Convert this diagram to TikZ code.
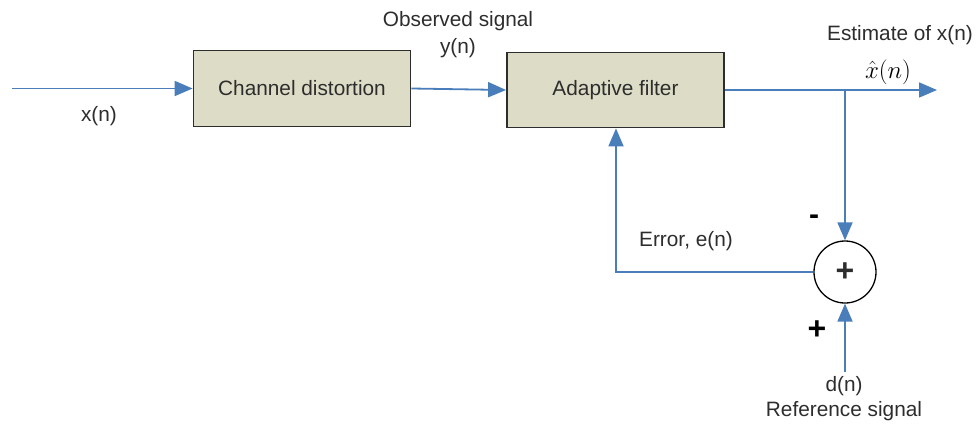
\documentclass[tikz,border=0pt]{standalone}
\usepackage{fontspec}
\setmainfont{Liberation Sans}
\usetikzlibrary{arrows.meta}
\definecolor{sigblue}{RGB}{74,126,187}
\definecolor{boxfill}{RGB}{221,221,199}
\definecolor{inkgray}{RGB}{45,45,45}
\begin{document}
\begin{tikzpicture}[x=1pt,y=-1pt,
  every node/.style={font=\fontsize{20.8}{22}\selectfont, text=inkgray},
  block/.style={draw=inkgray, line width=1.8pt, fill=boxfill, minimum width=217pt, minimum height=76pt, inner sep=0pt},
  summer/.style={draw=black, line width=1.3pt, circle, minimum size=62pt, inner sep=0pt},
  sig/.style={draw=sigblue, line width=1.8pt},
  sigarrow/.style={sig, -{Triangle[length=18pt,width=15pt]}},
  lbl/.style={inner sep=0pt}]
  \useasboundingbox (0,0) rectangle (977,423);

  % blocks
  \node[block] (chan) at (302,88.5) {Channel distortion};
  \node[block, minimum height=75pt] (filt) at (615.5,90) {Adaptive filter};
  \node[summer] (sum) at (845,272) {\fontsize{32}{32}\selectfont\bfseries +};

  % free ends of the signal lines
  \coordinate (xin) at (12,88.5);
  \coordinate (xout) at (937,90);
  \coordinate (tap) at (845,90);
  \coordinate (dref) at (845,372);
  \coordinate (fbk) at (616,272);

  % forward path
  \draw[sigarrow] (xin) -- (chan.west);
  \draw[sigarrow] (chan.east) -- (filt.west);
  \draw[sigarrow] (filt.east) -- (xout);
  % estimate and reference into the summer
  \draw[sigarrow] (tap) -- (sum.north);
  \draw[sigarrow] (dref) -- (sum.south);
  % error fed back to the filter
  \draw[sigarrow] (sum.west) -- (fbk) -- (filt.south -| fbk);

  % labels
  \node[lbl] (lx) at (99,116) {x(n)};
  \node[lbl] (lobs) at (458,21) {Observed signal};
  \node[lbl] (ly) at (458,48) {y(n)};
  \node[lbl] (lest) at (900,35) {Estimate of x(n)};
  \node[lbl, text=black] (lhat) at (888,72) {\fontsize{25}{26}\selectfont$\hat{x}(n)$};
  \node[lbl] (lerr) at (686,241) {Error, e(n)};
  \node[lbl, text=black] (lminus) at (814,220) {\fontsize{30}{30}\selectfont\bfseries -};
  \node[lbl, text=black] (lplus) at (817,330) {\fontsize{32}{32}\selectfont\bfseries +};
  \node[lbl] (ld) at (844,386) {d(n)};
  \node[lbl] (lref) at (844,411) {Reference signal};
\end{tikzpicture}
\end{document}
